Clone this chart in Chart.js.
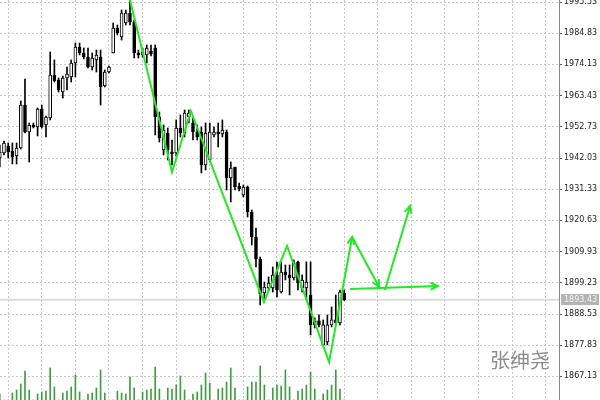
<!DOCTYPE html>
<html>
<head>
<meta charset="utf-8">
<script src="https://cdn.jsdelivr.net/npm/chart.js@4.4.1/dist/chart.umd.min.js"></script>
<style>
  html, body { margin: 0; padding: 0; background: #fff; }
</style>
</head>
<body>
<canvas id="chart" width="600" height="400"></canvas>
<script>
// candles (bar index = position from the left)
const opens = [
  1942.04, 1943.76, 1946.16, 1944.44, 1942.73, 1945.47, 1960.21, 1950.96, 1953.36, 1952.67,
  1958.84, 1953.36, 1955.76, 1970.50, 1968.79, 1964.67, 1969.47, 1969.82, 1974.62, 1980.10,
  1978.05, 1976.67, 1973.25, 1975.65, 1976.67, 1966.73, 1971.53, 1978.05, 1986.62, 1983.53,
  1988.33, 1991.76, 1988.68, 1978.05, 1977.36, 1977.36, 1978.73, 1979.76, 1956.10, 1944.79,
  1950.61, 1944.10, 1943.76, 1952.33, 1950.61, 1956.10, 1954.04, 1950.96, 1950.96, 1939.64,
  1941.36, 1949.93, 1950.96, 1950.27, 1950.96, 1935.18, 1938.96, 1932.44, 1929.36, 1932.10,
  1923.53, 1914.95, 1907.41, 1895.74, 1897.46, 1897.46, 1901.92, 1896.09, 1902.95, 1901.92,
  1900.89, 1906.38, 1897.46, 1897.46, 1895.06, 1886.15, 1886.15, 1877.92, 1878.99, 1884.79,
  1886.50, 1885.47, 1895.74
];
const highs = [
  1946.50, 1947.87, 1947.19, 1947.19, 1947.19, 1961.59, 1969.13, 1954.04, 1954.04, 1959.19,
  1960.21, 1956.44, 1978.39, 1975.65, 1969.47, 1970.16, 1973.25, 1975.65, 1981.47, 1981.47,
  1979.76, 1979.76, 1978.05, 1979.07, 1979.07, 1972.22, 1973.59, 1988.33, 1987.65, 1992.79,
  1992.79, 1996.22, 1989.36, 1979.07, 1979.76, 1980.79, 1980.79, 1980.79, 1957.81, 1953.36,
  1952.33, 1948.21, 1955.07, 1956.79, 1958.50, 1958.50, 1955.76, 1953.36, 1952.67, 1954.04,
  1954.04, 1952.67, 1954.04, 1955.07, 1951.64, 1940.67, 1938.96, 1933.47, 1932.79, 1932.44,
  1924.21, 1918.04, 1908.09, 1899.52, 1901.25, 1904.67, 1906.38, 1906.38, 1905.35, 1905.35,
  1907.07, 1906.72, 1901.92, 1906.38, 1906.38, 1887.18, 1888.21, 1886.50, 1888.21, 1890.95,
  1895.06, 1896.77, 1896.77
];
const lows = [
  1938.96, 1943.07, 1942.04, 1939.98, 1939.98, 1945.13, 1950.61, 1940.67, 1952.33, 1949.59,
  1952.33, 1949.24, 1955.07, 1968.10, 1964.67, 1962.61, 1965.36, 1968.10, 1969.82, 1977.36,
  1975.99, 1972.90, 1972.22, 1971.53, 1960.21, 1966.39, 1971.19, 1978.05, 1984.22, 1982.50,
  1987.65, 1987.65, 1976.33, 1976.33, 1976.67, 1974.62, 1977.02, 1949.93, 1947.53, 1943.07,
  1941.36, 1939.64, 1942.73, 1949.24, 1949.24, 1954.04, 1948.21, 1948.21, 1936.90, 1937.93,
  1940.67, 1949.24, 1945.81, 1949.24, 1931.07, 1926.96, 1931.07, 1930.73, 1928.67, 1921.81,
  1912.21, 1904.67, 1891.60, 1893.52, 1896.77, 1896.09, 1894.38, 1895.74, 1900.20, 1895.06,
  1900.20, 1896.77, 1896.09, 1893.52, 1881.35, 1883.75, 1884.10, 1877.92, 1877.92, 1884.10,
  1884.79, 1884.79, 1893.19
];
const closes = [
  1944.10, 1947.19, 1944.10, 1942.39, 1945.47, 1960.21, 1950.96, 1953.36, 1952.67, 1958.84,
  1952.67, 1956.10, 1970.50, 1968.45, 1965.36, 1969.47, 1970.85, 1974.62, 1980.10, 1978.05,
  1976.67, 1973.25, 1976.33, 1977.36, 1966.39, 1971.53, 1973.25, 1986.62, 1984.91, 1991.76,
  1991.76, 1988.68, 1978.05, 1977.36, 1978.39, 1979.76, 1977.70, 1956.10, 1948.90, 1951.64,
  1944.79, 1943.41, 1952.33, 1950.61, 1957.47, 1957.47, 1950.96, 1949.24, 1939.64, 1950.61,
  1950.96, 1950.96, 1950.27, 1951.64, 1935.18, 1938.61, 1932.10, 1931.42, 1932.10, 1923.53,
  1914.95, 1907.41, 1895.41, 1897.80, 1899.17, 1901.92, 1896.77, 1902.95, 1901.92, 1900.89,
  1906.04, 1899.17, 1900.20, 1899.52, 1884.79, 1884.79, 1884.79, 1884.79, 1884.79, 1886.50,
  1885.47, 1896.09, 1893.43
];
const volumes = [
  6, 0, 0, 7, 10, 16, 29, 10, 0, 6,
  8, 9, 32, 13, 0, 7, 9, 13, 25, 8,
  0, 6, 7, 12, 30, 7, 0, 0, 9, 7,
  6, 23, 12, 0, 8, 10, 11, 33, 11, 0,
  12, 11, 15, 24, 10, 0, 6, 8, 15, 27,
  17, 0, 11, 12, 18, 32, 12, 0, 0, 13,
  18, 18, 34, 15, 0, 12, 15, 14, 30, 13,
  0, 9, 11, 15, 28, 11, 0, 6, 10, 15,
  30, 11, 0
];

// price scale labels on the right
const priceTicks = [1995.53, 1984.83, 1974.13, 1963.43, 1952.73, 1942.03, 1931.33,
  1920.63, 1909.93, 1899.23, 1888.53, 1877.83, 1867.13];
const lastPrice = 1893.43;

// hand drawn green arrows (bar index, price)
const zigX = [31.0, 41.0, 45.5, 62.9, 68.4, 78.4, 83.9];
const zigY = [1996.22, 1937.24, 1958.16, 1892.66, 1911.87, 1872.09, 1914.95];
const downX = [83.9, 90.3];
const downY = [1914.95, 1897.81];
const upX = [91.7, 97.7];
const upY = [1896.78, 1925.58];
const flatX = [83.4, 104.3];
const flatY = [1897.12, 1898.15];

const watermark = "张绅尧";

const idx = opens.map((o, i) => i);
const green = "#22ea22";

function arrowLine(xs, ys) {
  return {
    type: "line",
    data: xs.map((x, k) => ({ x: x, y: ys[k] })),
    borderColor: green,
    borderWidth: 2,
    pointRadius: 0,
    tension: 0,
    arrow: true,
    order: 0,
  };
}

const overlay = {
  id: "overlay",
  beforeDatasetsDraw(chart) {
    const { ctx, chartArea: a, scales } = chart;
    const py = scales.y.getPixelForValue(lastPrice);
    ctx.save();
    // bid line
    ctx.strokeStyle = "#dcdcdc";
    ctx.lineWidth = 2;
    ctx.beginPath();
    ctx.moveTo(a.left, py);
    ctx.lineTo(a.right, py);
    ctx.stroke();
    // watermark
    ctx.fillStyle = "#8c8c8c";
    ctx.font = '20px "Noto Sans CJK SC"';
    ctx.textAlign = "center";
    ctx.textBaseline = "middle";
    ctx.fillText(watermark, 520, 360);
    ctx.restore();
  },
  afterDraw(chart) {
    const { ctx, chartArea: a, scales } = chart;
    ctx.save();
    // arrow heads
    chart.data.datasets.forEach((ds, di) => {
      if (!ds.arrow) return;
      const pts = chart.getDatasetMeta(di).data;
      const p1 = pts[pts.length - 2], p2 = pts[pts.length - 1];
      const ang = Math.atan2(p2.y - p1.y, p2.x - p1.x);
      ctx.strokeStyle = green;
      ctx.lineWidth = 2;
      ctx.beginPath();
      ctx.moveTo(p2.x - 8 * Math.cos(ang - 0.45), p2.y - 8 * Math.sin(ang - 0.45));
      ctx.lineTo(p2.x, p2.y);
      ctx.lineTo(p2.x - 8 * Math.cos(ang + 0.45), p2.y - 8 * Math.sin(ang + 0.45));
      ctx.stroke();
    });
    // current price box
    const py = scales.y.getPixelForValue(lastPrice);
    ctx.fillStyle = "#b4b4b4";
    ctx.fillRect(a.right + 2, Math.round(py) - 6, 38, 11);
    ctx.fillStyle = "#f4f4f4";
    ctx.font = '8px "DejaVu Sans"';
    ctx.textAlign = "left";
    ctx.textBaseline = "middle";
    ctx.fillText(lastPrice.toFixed(2), a.right + 5, py);
    ctx.restore();
  },
};

new Chart(document.getElementById("chart"), {
  type: "bar",
  data: {
    datasets: [
      {
        label: "wicks",
        data: idx.map((i) => ({ x: i, y: [lows[i], highs[i]] })),
        backgroundColor: "#000",
        barThickness: 1,
        grouped: false,
        order: 2,
      },
      {
        label: "bodies",
        data: idx.map((i) => ({ x: i, y: [opens[i], closes[i]] })),
        backgroundColor: idx.map((i) => (closes[i] >= opens[i] ? "#fff" : "#000")),
        borderColor: "#000",
        borderWidth: 1,
        borderSkipped: false,
        barThickness: 3,
        minBarLength: 1,
        grouped: false,
        order: 1,
      },
      {
        label: "volume",
        yAxisID: "yVol",
        data: idx.map((i) => ({ x: i, y: volumes[i] })),
        backgroundColor: "#3f9f3f",
        barThickness: 1,
        grouped: false,
        order: 3,
      },
      arrowLine(zigX, zigY),
      arrowLine(downX, downY),
      arrowLine(upX, upY),
      arrowLine(flatX, flatY),
    ],
  },
  options: {
    responsive: false,
    animation: false,
    devicePixelRatio: 1,
    layout: { padding: 0 },
    plugins: { legend: { display: false }, tooltip: { enabled: false } },
    scales: {
      x: {
        type: "linear",
        min: 0.05,
        max: 133.15,
        offset: false,
        afterBuildTicks: (s) => {
          s.ticks = [];
          for (let v = 2; v < 133; v += 8) s.ticks.push({ value: v });
        },
        afterFit: (s) => { s.height = 0; },
        ticks: { display: false },
        grid: { offset: false, color: "#c8c8c8", drawTicks: false },
        border: { display: false, dash: [2, 2] },
      },
      y: {
        position: "right",
        min: 1859.04,
        max: 1996.22,
        afterBuildTicks: (s) => {
          s.ticks = priceTicks.map((v) => ({ value: v }));
        },
        afterFit: (s) => {
          s.width = 41;
          s.paddingTop = 0;
          s.paddingBottom = 0;
        },
        ticks: {
          autoSkip: false,
          padding: 2,
          color: "#222",
          font: { family: "DejaVu Sans", size: 8 },
          callback: (v) => Number(v).toFixed(2),
        },
        grid: { color: "#c8c8c8", tickLength: 3, tickColor: "#555", tickBorderDash: [] },
        border: { display: true, color: "#888", width: 1, dash: [2, 2] },
      },
      yVol: {
        display: false,
        min: 0,
        max: 400,
      },
    },
  },
  plugins: [overlay],
});
</script>
</body>
</html>
